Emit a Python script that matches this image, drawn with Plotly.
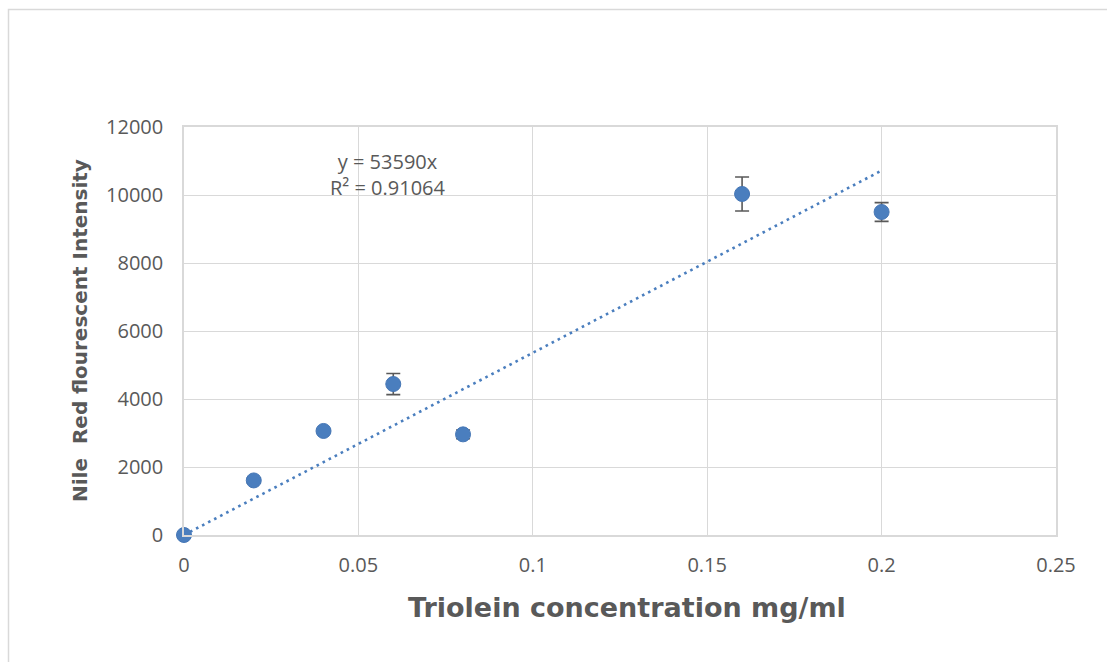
import plotly.graph_objects as go

# Triolein standard curve for Nile Red fluorescence
concentration = [0.0, 0.02, 0.04, 0.06, 0.08, 0.16, 0.20]
intensity = [0, 1605, 3060, 4440, 2960, 10030, 9500]
intensity_err = [0, 80, 50, 310, 130, 500, 275]

slope = 53590
r_squared = 0.91064

x_ticks = [0, 0.05, 0.1, 0.15, 0.2, 0.25]
x_tick_labels = ["0", "0.05", "0.1", "0.15", "0.2", "0.25"]
y_ticks = [0, 2000, 4000, 6000, 8000, 10000, 12000]
y_tick_labels = ["0", "2000", "4000", "6000", "8000", "10000", "12000"]

BLUE = "#4A7EBE"
GREY_TEXT = "#595959"
GRID = "#d9d9d9"

# plot-area box in pixels, used to place titles in paper coordinates
W, H = 1107, 662
L, R, T, B = 184, 1056, 127, 535


def px_to_paper(px, py):
    return (px - L) / (R - L), (B - py) / (B - T)


trend_x = [min(concentration), max(concentration)]
trend_y = [slope * v for v in trend_x]

fig = go.Figure()

fig.add_trace(go.Scatter(
    x=trend_x, y=trend_y, mode="lines",
    line=dict(color=BLUE, width=2.6, dash="2.6px,4.2px"),
    hoverinfo="skip", showlegend=False, cliponaxis=False,
))

fig.add_trace(go.Scatter(
    x=concentration, y=intensity, mode="markers",
    marker=dict(color=BLUE, size=15, line=dict(color="#4677B6", width=1)),
    error_y=dict(type="data", array=intensity_err, visible=True,
                 color=GREY_TEXT, thickness=1.6, width=7),
    showlegend=False, cliponaxis=False,
))

fig.add_annotation(
    x=0.0585, y=10600, xref="x", yref="y",
    text=f"y = {slope}x<br>R² = {r_squared}",
    showarrow=False, align="center",
    font=dict(family="Open Sans, Noto Sans, sans-serif", size=20, color=GREY_TEXT),
)

tx, ty = px_to_paper(627, 607)
fig.add_annotation(
    x=tx, y=ty, xref="paper", yref="paper",
    text="<b>Triolein concentration mg/ml</b>", showarrow=False,
    font=dict(family="DejaVu Sans, sans-serif", size=27, color=GREY_TEXT),
    xanchor="center", yanchor="middle",
)

yx, yy = px_to_paper(80, 331)
fig.add_annotation(
    x=yx, y=yy, xref="paper", yref="paper",
    text="<b>Nile  Red flourescent Intensity</b>", showarrow=False, textangle=-90,
    font=dict(family="DejaVu Sans, sans-serif", size=20, color=GREY_TEXT),
    xanchor="center", yanchor="middle",
)

# Outer chart frame
fx0, fy1 = px_to_paper(8.5, 9.5)
fig.add_shape(
    type="rect", xref="paper", yref="paper",
    x0=fx0, x1=1.2, y0=-0.5, y1=fy1,
    line=dict(color="#d9d9d9", width=1.5), fillcolor="rgba(0,0,0,0)", layer="below",
)

fig.update_layout(
    width=W, height=H,
    margin=dict(l=L, r=W - R, t=T, b=H - B),
    paper_bgcolor="white", plot_bgcolor="white",
    font=dict(family="Open Sans, Noto Sans, sans-serif", size=20, color=GREY_TEXT),
)

fig.update_xaxes(
    range=[0, 0.25], tickvals=x_ticks, ticktext=x_tick_labels,
    showgrid=True, gridcolor=GRID, gridwidth=1.3,
    showline=True, linecolor=GRID, linewidth=1.5, mirror=True,
    zeroline=False, ticks="outside", ticklen=11, tickcolor="rgba(0,0,0,0)",
    tickfont=dict(size=20, color=GREY_TEXT),
)
fig.update_yaxes(
    range=[0, 12000], tickvals=y_ticks, ticktext=y_tick_labels,
    showgrid=True, gridcolor=GRID, gridwidth=1.3,
    showline=True, linecolor=GRID, linewidth=1.5, mirror=True,
    zeroline=False, ticks="outside", ticklen=15, tickcolor="rgba(0,0,0,0)",
    tickfont=dict(size=20, color=GREY_TEXT),
)

fig.write_html("out.html")
